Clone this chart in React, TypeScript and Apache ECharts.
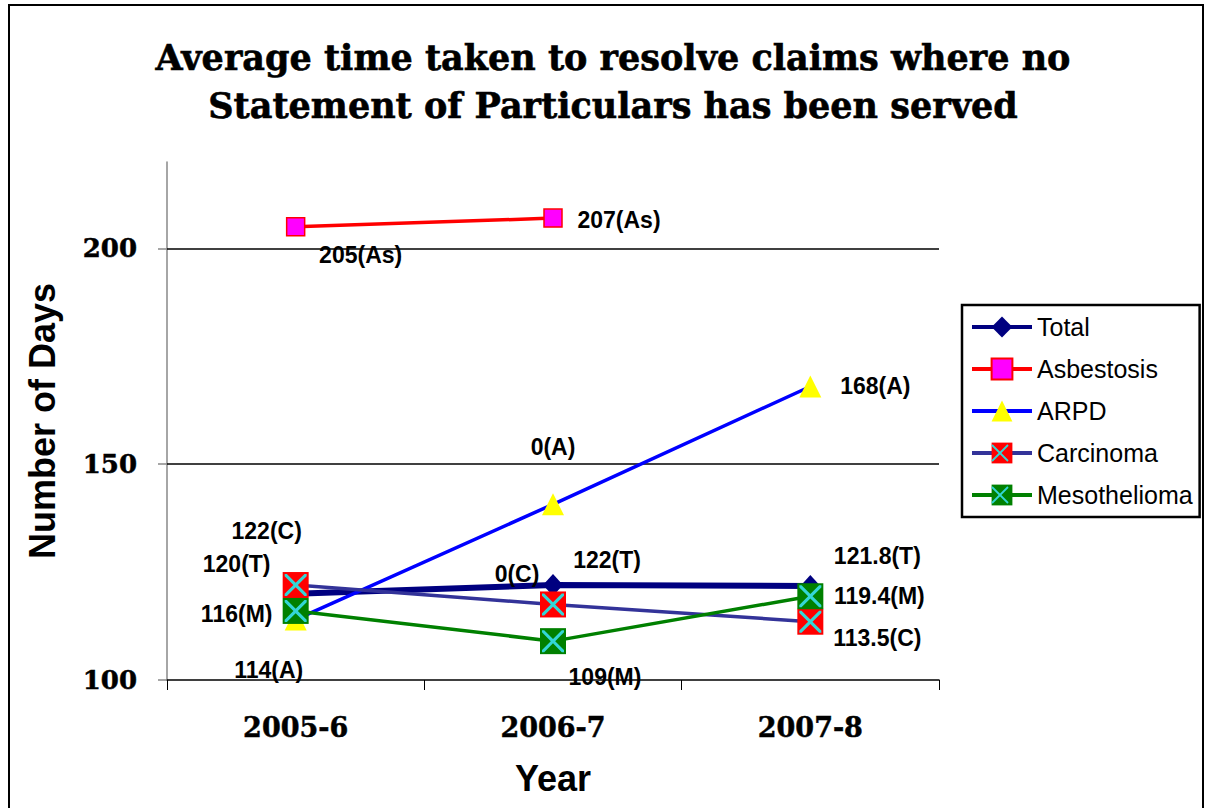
import React, { useEffect, useRef } from "react";
import * as echarts from "echarts";

const categories = ["2005-6", "2006-7", "2007-8"];
const totalValues = [120, 122, 121.8];
const asbestosisValues: (number | null)[] = [205, 207, null];
const arpdValues = [114, 140.7, 168];
const carcinomaValues = [122, 117.5, 113.5];
const mesoValues = [116, 109, 119.4];

const totalLabels = ["120(T)", "122(T)", "121.8(T)"];
const asbestosisLabels = ["205(As)", "207(As)", ""];
const arpdLabels = ["114(A)", "0(A)", "168(A)"];
const carcinomaLabels = ["122(C)", "0(C)", "113.5(C)"];
const mesoLabels = ["116(M)", "109(M)", "119.4(M)"];

const yTicks = [100, 150, 200];
const gridLines = [150, 200];

const totalOffsets = [[-59, -30], [54, -25], [67, -30]];
const asbestosisOffsets = [[65, 28], [66, 2], [0, 0]];
const arpdOffsets = [[-27, 50], [0, -57], [65, 0]];
const carcinomaOffsets = [[-29, -54], [-36, -30], [67, 16]];
const mesoOffsets = [[-59, 3], [52, 36], [69, 0]];

const labelFont = {
  fontFamily: "Liberation Sans, Arial, sans-serif",
  fontWeight: "bold" as const,
  fontSize: 23,
  color: "#000",
};

const X_PATH =
  "path://M0,0 L2,0 L10,8 L18,0 L20,0 L20,2 L12,10 L20,18 L20,20 L18,20 L10,12 L2,20 L0,20 L0,18 L8,10 L0,2 Z";

function withLabels(values: (number | null)[], labels: string[], offsets: number[][]) {
  return values.map((v, i) => ({
    value: v,
    label: {
      show: labels[i] !== "",
      formatter: labels[i],
      position: "inside",
      offset: offsets[i],
      ...labelFont,
    },
  }));
}

export default function App() {
  const ref = useRef<HTMLDivElement>(null);
  useEffect(() => {
    if (!ref.current) return;
    const chart = echarts.init(ref.current, null, { renderer: "svg" });
    const cyan = "#33D6D6";
    const legendX = 962 + 8 + 30;
    const legendY = (i: number) => 305 + 9 + i * 42 + 13;
    const xMark = (cx: number, cy: number, h: number) => [
      { type: "line", shape: { x1: cx - h, y1: cy - h, x2: cx + h, y2: cy + h }, style: { stroke: cyan, lineWidth: 1.8 }, z: 100 },
      { type: "line", shape: { x1: cx - h, y1: cy + h, x2: cx + h, y2: cy - h }, style: { stroke: cyan, lineWidth: 1.8 }, z: 100 },
    ];
    chart.setOption({
      animation: false,
      backgroundColor: "#fff",
      title: {
        text: "Average time taken to resolve claims where no\nStatement of Particulars has been served",
        left: 608,
        top: 28,
        textAlign: "center",
        textStyle: {
          fontFamily: "DejaVu Serif, serif",
          fontWeight: "bold",
          fontSize: 35,
          lineHeight: 48,
          color: "#000",
          textBorderColor: "#000",
          textBorderWidth: 0.6,
        },
      },
      legend: {
        data: ["Total", "Asbestosis", "ARPD", "Carcinoma", "Mesothelioma"],
        orient: "vertical",
        left: 962,
        top: 305,
        padding: [9, 7, 9, 8],
        itemWidth: 60,
        itemHeight: 26,
        itemGap: 16,
        borderColor: "#000",
        borderWidth: 2.5,
        lineStyle: { width: 4 },
        textStyle: {
          fontFamily: "Liberation Sans, Arial, sans-serif",
          fontSize: 25,
          lineHeight: 26,
          color: "#000",
        },
      },
      grid: { left: 167, right: 266, top: 162, bottom: 128 },
      xAxis: {
        type: "category",
        data: categories,
        boundaryGap: true,
        name: "Year",
        nameLocation: "middle",
        nameGap: 80,
        nameTextStyle: {
          fontFamily: "Liberation Sans, Arial, sans-serif",
          fontWeight: "bold",
          fontSize: 36,
          color: "#000",
        },
        axisLine: { lineStyle: { color: "#000", width: 1.5 } },
        axisTick: { show: true, length: 10, lineStyle: { color: "#000", width: 1 } },
        axisLabel: {
          margin: 34,
          fontFamily: "DejaVu Serif, serif",
          fontWeight: "bold",
          fontSize: 27,
          color: "#000",
          textBorderColor: "#000",
          textBorderWidth: 0.5,
        },
      },
      yAxis: {
        type: "value",
        min: 100,
        max: 220,
        interval: 50,
        name: "Number of Days",
        nameLocation: "middle",
        nameGap: 107,
        nameTextStyle: {
          fontFamily: "Liberation Sans, Arial, sans-serif",
          fontWeight: "bold",
          fontSize: 36,
          color: "#000",
        },
        axisLine: { show: true, lineStyle: { color: "#888", width: 1.5 } },
        axisTick: { show: true, length: 9, customValues: yTicks, lineStyle: { color: "#888", width: 1.5 } },
        splitLine: { show: false },
        axisLabel: {
          customValues: yTicks,
          margin: 30,
          fontFamily: "DejaVu Serif, serif",
          fontWeight: "bold",
          fontSize: 26,
          color: "#000",
          textBorderColor: "#000",
          textBorderWidth: 0.5,
        },
      },
      series: [
        {
          name: "Total",
          type: "line",
          data: withLabels(totalValues, totalLabels, totalOffsets),
          symbol: "diamond",
          symbolSize: [20, 22],
          lineStyle: { color: "#000080", width: 6 },
          itemStyle: { color: "#000080", borderWidth: 0 },
          markLine: {
            silent: true,
            symbol: "none",
            label: { show: false },
            lineStyle: { color: "#000", width: 1.5, type: "solid" },
            data: gridLines.map((v) => ({ yAxis: v })),
            z: 1,
          },
        },
        {
          name: "Asbestosis",
          type: "line",
          data: withLabels(asbestosisValues, asbestosisLabels, asbestosisOffsets),
          symbol: "rect",
          symbolSize: 18,
          lineStyle: { color: "#FF0000", width: 3.5 },
          itemStyle: { color: "#FF00FF", borderColor: "#FF0000", borderWidth: 1.5 },
        },
        {
          name: "ARPD",
          type: "line",
          data: withLabels(arpdValues, arpdLabels, arpdOffsets),
          symbol: "triangle",
          symbolSize: 22,
          lineStyle: { color: "#0000FF", width: 3.5 },
          itemStyle: { color: "#FFFF00", borderWidth: 0 },
        },
        {
          name: "Carcinoma",
          type: "line",
          data: withLabels(carcinomaValues, carcinomaLabels, carcinomaOffsets),
          symbol: "rect",
          symbolSize: 26,
          lineStyle: { color: "#333399", width: 3.5 },
          itemStyle: { color: "#FF0000", borderWidth: 0 },
        },
        {
          name: "Mesothelioma",
          type: "line",
          data: withLabels(mesoValues, mesoLabels, mesoOffsets),
          symbol: "rect",
          symbolSize: 26,
          lineStyle: { color: "#008000", width: 3.5 },
          itemStyle: { color: "#008000", borderWidth: 0 },
        },
        {
          name: "CarcinomaX",
          type: "line",
          data: carcinomaValues,
          symbol: X_PATH,
          symbolSize: 22,
          showSymbol: true,
          silent: true,
          lineStyle: { width: 0, opacity: 0 },
          itemStyle: { color: cyan, borderWidth: 0 },
          z: 3,
        },
        {
          name: "MesotheliomaX",
          type: "line",
          data: mesoValues,
          symbol: X_PATH,
          symbolSize: 22,
          showSymbol: true,
          silent: true,
          lineStyle: { width: 0, opacity: 0 },
          itemStyle: { color: cyan, borderWidth: 0 },
          z: 3,
        },
      ],
      graphic: [
        {
          type: "rect",
          shape: { x: 9, y: 5, width: 1194, height: 900 },
          style: { fill: "none", stroke: "#000", lineWidth: 2 },
          silent: true,
        },
        ...xMark(legendX, legendY(3), 8),
        ...xMark(legendX, legendY(4), 8),
      ],
    });
    return () => chart.dispose();
  }, []);
  return (
    <div
      ref={ref}
      style={{ position: "fixed", left: 0, top: 0, width: 1205, height: 808 }}
    />
  );
}
